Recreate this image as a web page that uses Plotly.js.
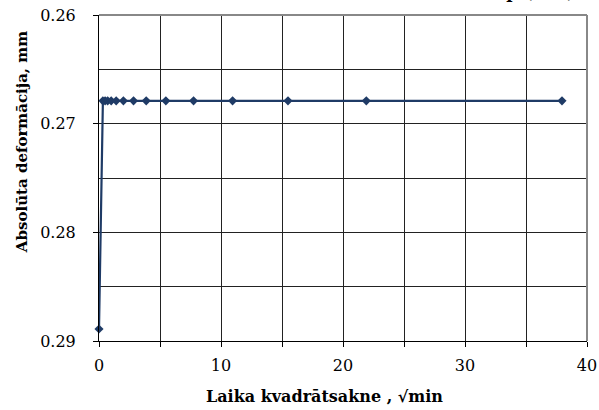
<!DOCTYPE html>
<html><head><meta charset="utf-8">
<script src="https://cdn.plot.ly/plotly-3.0.1.min.js"></script>
<style>body{margin:0;padding:0;background:#fff}#chart{width:599px;height:410px}</style>
</head><body><div id="chart"></div>
<script>
const sqrtTime = [0, 0.32, 0.5, 0.71, 1, 1.41, 2, 2.83, 3.87, 5.48, 7.75, 10.95, 15.49, 21.91, 37.95];
const deformation = [0.2889, 0.2679, 0.2679, 0.2679, 0.2679, 0.2679, 0.2679, 0.2679, 0.2679, 0.2679, 0.2679, 0.2679, 0.2679, 0.2679, 0.2679];
const titleText = "Slodze p (kPa)";
const xTitle = "Laika kvadrātsakne , √min";
const yTitle = "Absolūta deformācija, mm";
const serif = "DejaVu Serif, Liberation Serif, serif";
const navy = "#1f3b66";

Plotly.newPlot("chart", [{
  x: sqrtTime, y: deformation, type: "scatter", mode: "lines+markers",
  line: {color: navy, width: 2.2},
  marker: {symbol: "diamond", size: 7, color: navy},
  cliponaxis: false
}], {
  width: 599, height: 410,
  margin: {l: 99, r: 12, t: 15, b: 69},
  paper_bgcolor: "#fff", plot_bgcolor: "#fff",
  showlegend: false,
  font: {family: serif, color: "#000", size: 16},
  xaxis: {
    range: [0, 40], dtick: 10, tick0: 0,
    showline: true, linecolor: "#000", linewidth: 1,
    ticks: "outside", ticklen: 5, tickcolor: "#000",
    ticklabelstandoff: 5,
    showgrid: true, gridcolor: "#222", gridwidth: 1,
    minor: {dtick: 5, showgrid: true, gridcolor: "#222", ticks: "outside", ticklen: 5, tickcolor: "#000"},
    zeroline: false, mirror: false,
    tickfont: {family: serif, size: 16}
  },
  yaxis: {
    range: [0.29, 0.26], dtick: 0.01, tick0: 0.26, tickformat: ".2f",
    showline: true, linecolor: "#000", linewidth: 1,
    ticks: "outside", ticklen: 5, tickcolor: "#000",
    ticklabelstandoff: 14,
    showgrid: true, gridcolor: "#222", gridwidth: 1,
    minor: {dtick: 0.005, showgrid: true, gridcolor: "#222"},
    zeroline: false,
    tickfont: {family: serif, size: 16}
  },
  shapes: [
    {type: "line", xref: "paper", yref: "paper", x0: 0, x1: 1, y0: 1, y1: 1, line: {color: "#888", width: 2}},
    {type: "line", xref: "paper", yref: "paper", x0: 1, x1: 1, y0: 0, y1: 1, line: {color: "#888", width: 2}}
  ],
  annotations: [
    {
      text: "<b>" + titleText + "</b>", xref: "paper", yref: "paper",
      x: 0.69, y: 1, yshift: 11, xanchor: "left", yanchor: "bottom",
      showarrow: false, font: {family: serif, size: 17, color: "#000"}
    },
    {
      text: "<b>" + xTitle + "</b>", xref: "paper", yref: "paper",
      x: 0.463, y: 0, yshift: -55, xanchor: "center", yanchor: "middle",
      showarrow: false, font: {family: serif, size: 16, color: "#000"}
    },
    {
      text: "<b>" + yTitle + "</b>", xref: "paper", yref: "paper", textangle: -90,
      x: 0, xshift: -77, y: 0.61, xanchor: "center", yanchor: "middle",
      showarrow: false, font: {family: serif, size: 15, color: "#000"}
    }
  ]
}, {displayModeBar: false, staticPlot: true});
</script></body></html>
